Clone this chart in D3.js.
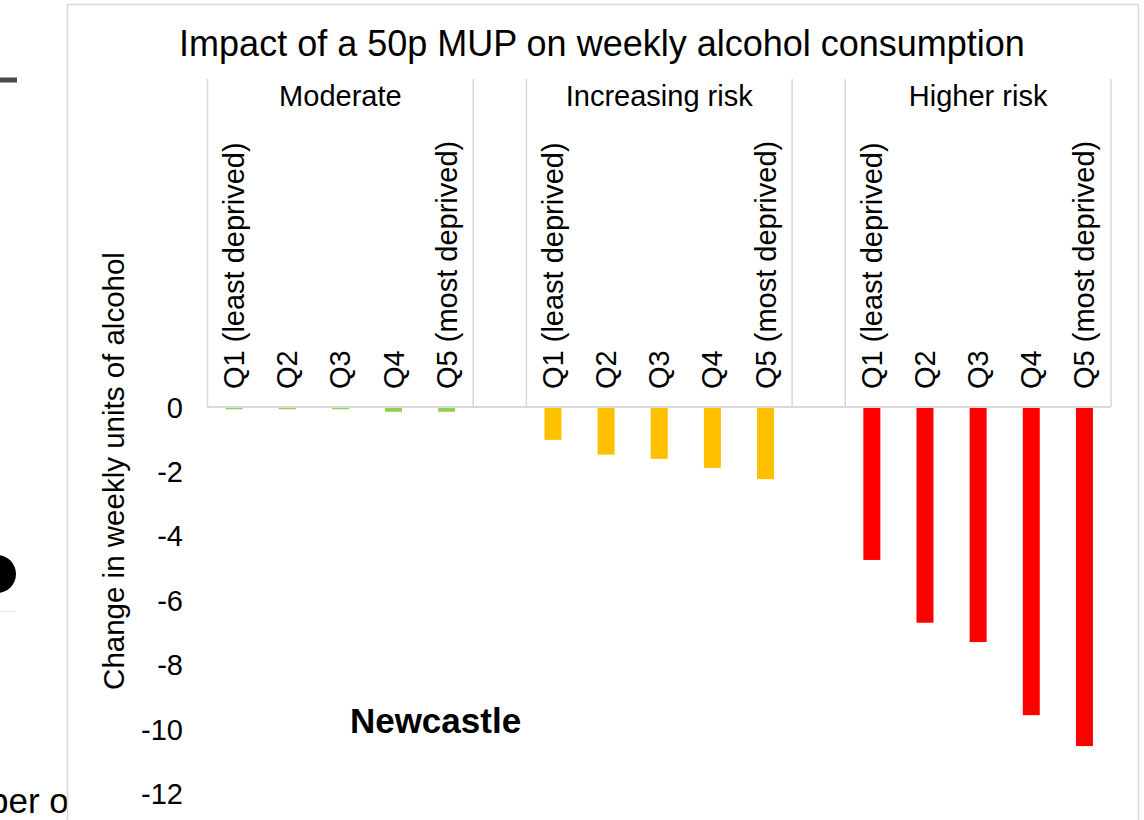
<!DOCTYPE html>
<html>
<head>
<meta charset="utf-8">
<script src="https://cdn.jsdelivr.net/npm/d3@7"></script>
<style>
  html, body { margin: 0; padding: 0; background: #fff; overflow: hidden; }
  svg { display: block; }
  text { font-family: "Liberation Sans", Arial, sans-serif; fill: #000; }
</style>
</head>
<body>
<svg id="chart" width="1144" height="820"></svg>
<script>
// ---- data ----
const title = "Impact of a 50p MUP on weekly alcohol consumption";
const groups = ["Moderate", "Increasing risk", "Higher risk"];
const quintiles = ["Q1  (least deprived)", "Q2", "Q3", "Q4", "Q5 (most deprived)"];
const moderate = [-0.07, -0.07, -0.07, -0.15, -0.15];
const increasingRisk = [-1.02, -1.48, -1.61, -1.89, -2.24];
const higherRisk = [-4.75, -6.70, -7.30, -9.57, -10.53];
const groupColors = ["#92D050", "#FFC000", "#FF0000"];
const yTicks = [0, -2, -4, -6, -8, -10, -12];
const yTitle = "Change in weekly units of alcohol";
const areaLabel = "Newcastle";

const seriesValues = [moderate, increasingRisk, higherRisk];

// build category list: 5 quintiles per group, with an empty slot between groups
const cats = [];
groups.forEach((g, gi) => {
  quintiles.forEach((q, qi) => {
    cats.push({ key: g + "|" + qi, group: g, gi, label: q, value: seriesValues[gi][qi] });
  });
  if (gi < groups.length - 1) cats.push({ key: "gap" + gi, group: null, gi: -1, label: "", value: null });
});

const svg = d3.select("#chart");

// ---- background fragments around the chart (screenshot context) ----
svg.append("rect").attr("x", 0).attr("y", 77.5).attr("width", 17).attr("height", 5).attr("fill", "#4a4a4a");
svg.append("circle").attr("cx", -3).attr("cy", 574).attr("r", 19).attr("fill", "#000");
svg.append("rect").attr("x", 0).attr("y", 611).attr("width", 16).attr("height", 1).attr("fill", "#e6e6e6");
svg.append("text").attr("x", -11).attr("y", 813).style("font-size", "35px").text("per o");

// ---- chart area ----
svg.append("rect")
  .attr("x", 67.5).attr("y", 4.5).attr("width", 1071).attr("height", 840)
  .attr("fill", "#fff").attr("stroke", "#d9d9d9").attr("stroke-width", 1.5);

const x = d3.scaleBand().domain(cats.map(d => d.key)).range([207.5, 1111]).paddingInner(0).paddingOuter(0);
const y = d3.scaleLinear().domain([-12, 0]).range([793.4, 407]);
const barW = 17;

// bars
svg.append("g").selectAll("rect")
  .data(cats.filter(d => d.value !== null))
  .join("rect")
  .attr("x", d => x(d.key) + x.bandwidth() / 2 - barW / 2)
  .attr("y", d => y(0))
  .attr("width", barW)
  .attr("height", d => y(d.value) - y(0))
  .attr("fill", d => groupColors[d.gi]);

// category axis: horizontal line + group separators
const axisY = y(0);
const topY = 79;
svg.append("line")
  .attr("x1", x.range()[0]).attr("x2", x.range()[1])
  .attr("y1", axisY).attr("y2", axisY)
  .attr("stroke", "#d9d9d9").attr("stroke-width", 2);

const boundaries = [];
cats.forEach((d, i) => {
  const prev = cats[i - 1];
  if (i === 0 || (prev && prev.gi !== d.gi)) boundaries.push(x(d.key));
});
boundaries.push(x.range()[1]);
svg.append("g").selectAll("line")
  .data(boundaries)
  .join("line")
  .attr("x1", d => d).attr("x2", d => d)
  .attr("y1", topY).attr("y2", axisY)
  .attr("stroke", "#d9d9d9").attr("stroke-width", 1.5);

// quintile labels (rotated)
svg.append("g").selectAll("text")
  .data(cats.filter(d => d.value !== null))
  .join("text")
  .attr("transform", d => `translate(${x(d.key) + x.bandwidth() / 2 + 10},389) rotate(-90)`)
  .attr("text-anchor", "start")
  .style("font-size", "29px")
  .text(d => d.label);

// group labels
svg.append("g").selectAll("text")
  .data(groups)
  .join("text")
  .attr("x", (g) => {
    const members = cats.filter(c => c.group === g);
    return (x(members[0].key) + x(members[members.length - 1].key) + x.bandwidth()) / 2;
  })
  .attr("y", 106)
  .attr("text-anchor", "middle")
  .style("font-size", "29px")
  .text(g => g);

// value axis (labels only)
const yAxis = d3.axisLeft(y).tickValues(yTicks).tickSize(0).tickPadding(0).tickFormat(d3.format("d"));
const yg = svg.append("g").attr("transform", "translate(183,0)").call(yAxis);
yg.select(".domain").remove();
yg.selectAll("text")
  .style("font-size", "29px")
  .style("font-family", "'Liberation Sans', Arial, sans-serif")
  .attr("fill", "#000")
  .attr("dy", "0.35em")
  .text(d => d === 0 ? "0" : "-" + Math.abs(d));

// y title
svg.append("text")
  .attr("transform", "translate(124,471) rotate(-90)")
  .attr("text-anchor", "middle")
  .style("font-size", "29.5px")
  .text(yTitle);

// chart title
svg.append("text")
  .attr("x", 602).attr("y", 56)
  .attr("text-anchor", "middle")
  .style("font-size", "36px")
  .text(title);

// area label
svg.append("text")
  .attr("x", 435.5).attr("y", 733)
  .attr("text-anchor", "middle")
  .style("font-size", "35px")
  .style("font-weight", "bold")
  .text(areaLabel);
</script>
</body>
</html>
